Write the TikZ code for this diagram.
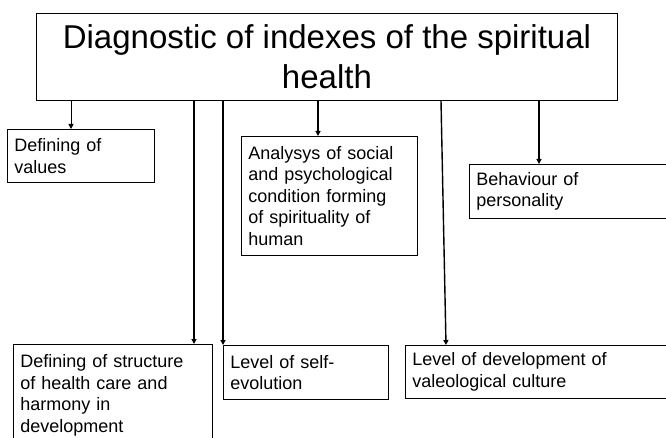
\documentclass[tikz,border=0pt]{standalone}
\usepackage{fontspec}
\setmainfont{Liberation Sans}
\usetikzlibrary{arrows.meta,positioning}

\begin{document}
\begin{tikzpicture}[
  x=1pt, y=-1pt,
  every node/.style={font=\fontsize{18}{21.6}\selectfont},
  block/.style={draw, line width=0.9pt, anchor=north west, align=left, inner xsep=7pt, inner ysep=0pt},
  link/.style={-{Triangle[length=5pt,width=5pt]}, line width=2.4pt},
  thinlink/.style={-{Triangle[length=5pt,width=5pt]}, line width=1pt}
]
  % Page frame (666 x 438)
  \clip (0,0) rectangle (666,438);

  % Title box
  \node[block, align=center, minimum width=581pt, minimum height=87pt, font=\fontsize{33}{40}\selectfont] (title) at (36,13) {Diagnostic of indexes of the spiritual\\health};

  % Upper row of indexes
  \node[block, text width=133pt, minimum height=53pt] (values) at (7,129) {Defining of\\values};
  \node[block, text width=162pt, minimum height=119pt] (analysis) at (241,136) {Analysys of social\\and psychological\\condition forming\\of spirituality of\\human};
  \node[block, text width=197pt, minimum height=54pt] (behaviour) at (469,164) {Behaviour of\\personality};

  % Lower row of indexes (cut by the page edge)
  \node[block, text width=185pt, minimum height=102pt] (structure) at (13,344) {Defining of structure\\of health care and\\harmony in\\development};
  \node[block, text width=151pt, minimum height=54pt] (selfevo) at (223,345) {Level of self-\\evolution};
  \node[block, text width=261pt, minimum height=53pt] (valeo) at (405,345) {Level of development of\\valeological culture};

  % Connectors from the title box
  \draw[thinlink] ([xshift=35pt]title.south west) -- ([xshift=64pt]values.north west);
  \draw[link] ([xshift=158pt]title.south west) -- ([xshift=181pt]structure.north west);
  \draw[link] ([xshift=187pt]title.south west) -- (selfevo.north west);
  \draw[link, line width=2pt] ([xshift=282pt]title.south west) -- ([xshift=77pt]analysis.north west);
  \draw[link, line width=1.4pt] ([xshift=405pt]title.south west) -- ([xshift=41pt]valeo.north west);
  \draw[link, line width=2pt] ([xshift=503pt]title.south west) -- ([xshift=70pt]behaviour.north west);
\end{tikzpicture}
\end{document}
